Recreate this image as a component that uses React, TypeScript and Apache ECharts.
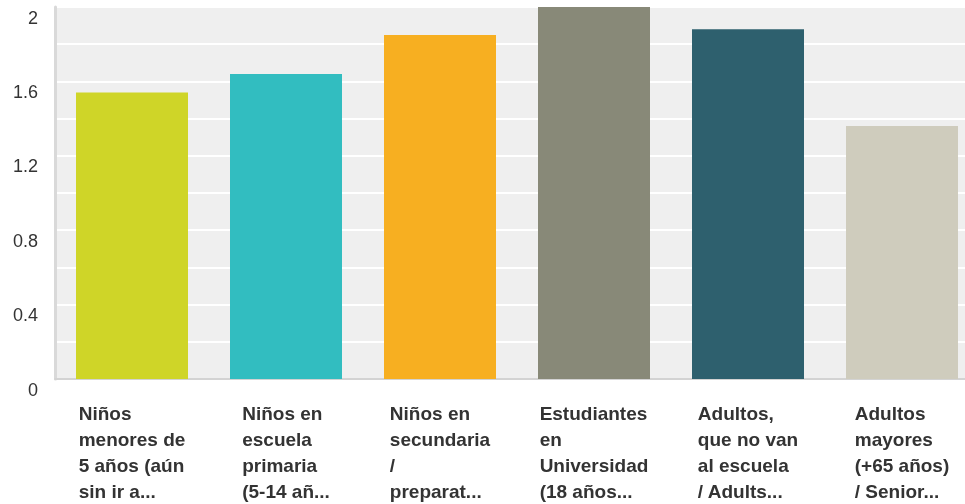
import React, { useEffect, useRef } from "react";
import * as echarts from "echarts";

const categories: string[] = [
  "Niños\nmenores de\n5 años (aún\nsin ir a...",
  "Niños en\nescuela\nprimaria\n(5-14 añ...",
  "Niños en\nsecundaria\n/\npreparat...",
  "Estudiantes\nen\nUniversidad\n(18 años...",
  "Adultos,\nque no van\nal escuela\n/ Adults...",
  "Adultos\nmayores\n(+65 años)\n/ Senior...",
];
const values: number[] = [1.54, 1.64, 1.85, 2.0, 1.88, 1.36];
const barColors: string[] = ["#CFD528", "#32BDC0", "#F7AF21", "#888978", "#2E606E", "#CFCCBD"];
const yTickLabels: string[] = ["0", "0.4", "0.8", "1.2", "1.6", "2"];

export default function App() {
  const ref = useRef<HTMLDivElement>(null);
  useEffect(() => {
    document.body.style.overflow = "hidden";
    document.documentElement.style.overflow = "hidden";
    const chart = echarts.init(ref.current!, undefined, { renderer: "svg" });
    chart.setOption({
      animation: false,
      grid: {
        left: 55,
        top: 7,
        width: 924,
        height: 372,
        show: true,
        backgroundColor: "#efefef",
        borderWidth: 0,
      },
      xAxis: {
        type: "category",
        data: categories,
        axisLine: { show: true, lineStyle: { color: "#d3d3d3", width: 2 } },
        axisTick: { show: false },
        axisLabel: {
          interval: 0,
          margin: 21,
          align: "center",
          formatter: (v: string) =>
            v
              .split("\n")
              .map((l) => `{a|${l}}`)
              .join("\n"),
          rich: {
            a: {
              align: "left",
              fontFamily: "Liberation Sans, Arial, sans-serif",
              fontSize: 19,
              fontWeight: "bold",
              lineHeight: 26,
              color: "#333333",
            },
          },
        },
      },
      yAxis: {
        type: "value",
        min: 0,
        max: 2,
        interval: 0.2,
        axisLine: { show: true, lineStyle: { color: "#d9d9d9", width: 3 } },
        axisTick: { show: false },
        splitLine: { show: true, lineStyle: { color: "#ffffff", width: 2 } },
        axisLabel: {
          margin: 17,
          fontFamily: "Liberation Sans, Arial, sans-serif",
          fontSize: 18,
          color: "#333333",
          verticalAlign: "top",
          lineHeight: 21,
          formatter: (v: number) => {
            const s = String(Math.round(v * 10) / 10);
            return yTickLabels.includes(s) ? s : "";
          },
        },
      },
      series: [
        {
          type: "bar",
          barWidth: 112,
          data: values.map((v, i) => ({ value: v, itemStyle: { color: barColors[i] } })),
        },
      ],
    });
    return () => chart.dispose();
  }, []);
  return (
    <div
      ref={ref}
      style={{ position: "fixed", left: 0, top: 0, width: 1000, height: 504 }}
    />
  );
}
